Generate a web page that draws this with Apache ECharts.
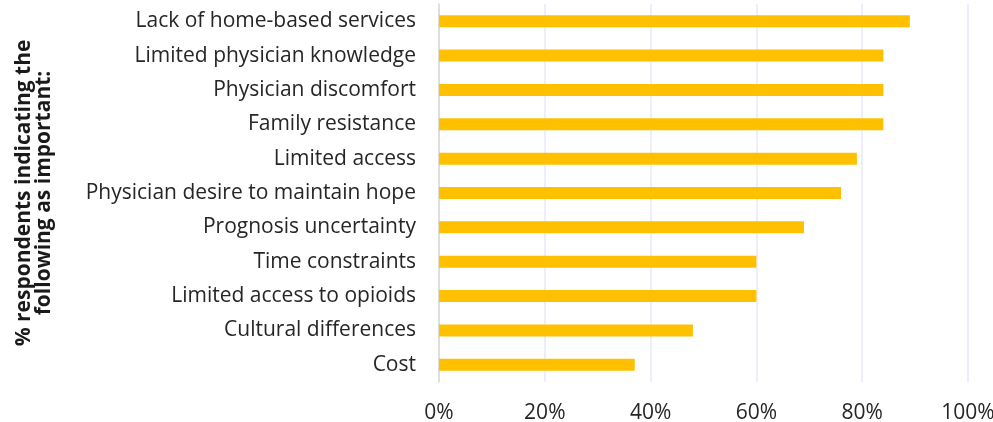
<!DOCTYPE html>
<html>
<head>
<meta charset="utf-8">
<script src="https://cdn.jsdelivr.net/npm/echarts@6/dist/echarts.min.js"></script>
<style>
html,body{margin:0;padding:0;background:#fff;}
#chart{width:993px;height:422px;}
</style>
</head>
<body>
<div id="chart"></div>
<script>
var categories = [
  "Lack of home-based services",
  "Limited physician knowledge",
  "Physician discomfort",
  "Family resistance",
  "Limited access",
  "Physician desire to maintain hope",
  "Prognosis uncertainty",
  "Time constraints",
  "Limited access to opioids",
  "Cultural differences",
  "Cost"
];
var values = [89, 84, 84, 84, 79, 76, 69, 60, 60, 48, 37];
var xTicks = [0, 20, 40, 60, 80, 100];
var axisTitle = "% respondents indicating the\nfollowing as important:";

var chart = echarts.init(document.getElementById('chart'));
chart.setOption({
  animation: false,
  grid: {left: 439, right: 25, top: 4, bottom: 40, containLabel: false, outerBoundsMode: 'none'},
  xAxis: {
    type: 'value', min: xTicks[0], max: xTicks[xTicks.length-1], interval: 20,
    axisLine: {show: false}, axisTick: {show: false},
    splitLine: {lineStyle: {color: '#e6eafa', width: 1.5}},
    axisLabel: {formatter: '{value}%', color: '#262626', fontSize: 21, fontFamily: 'Open Sans', margin: 21}
  },
  yAxis: {
    type: 'category', data: categories, inverse: true,
    axisLine: {show: true, lineStyle: {color: '#d9d9d9', width: 1.5}},
    axisTick: {show: false},
    axisLabel: {color: '#262626', fontSize: 21, fontFamily: 'Open Sans', margin: 23},
    name: axisTitle, nameLocation: 'middle', nameRotate: 90, nameGap: 385,
    nameTextStyle: {color: '#1a1a1a', fontSize: 21, fontWeight: 'bold', fontFamily: 'Open Sans', lineHeight: 20}
  },
  series: [{
    type: 'bar', data: values, barWidth: 12,
    itemStyle: {color: '#ffc000'}
  }]
});
</script>
</body>
</html>
